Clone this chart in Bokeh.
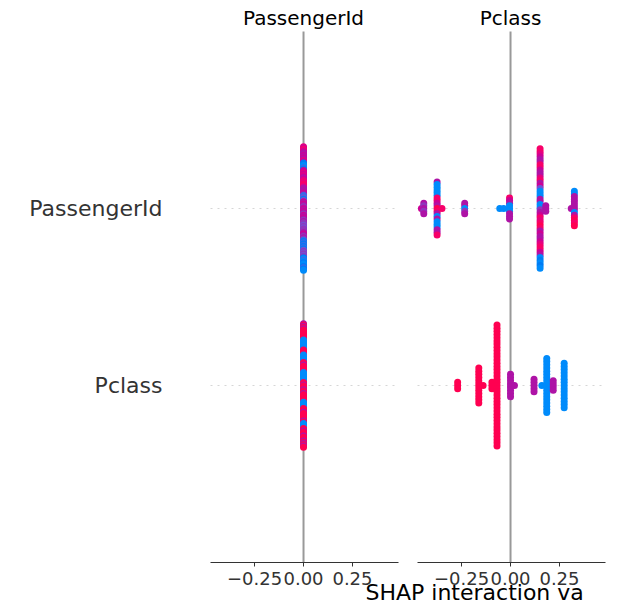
import numpy as np
from bokeh.plotting import figure
from bokeh.models import (Range1d, LinearAxis, FixedTicker, Label,
                          ColumnDataSource, LinearColorMapper)
from bokeh.transform import transform
from bokeh.embed import file_html
from bokeh.resources import INLINE

# ---------------- data ----------------
row_features = ["Pclass", "PassengerId"]          # y = 0, 1
col_features = ["PassengerId", "Pclass"]          # left panel, right panel
x_ticks = [-0.25, 0.0, 0.25]
x_tick_labels = ["\u22120.25", "0.00", "0.25"]
x_label = "SHAP interaction va"                   # as much as the reference shows

# feature-value codes 0 (low, blue) .. 9 (high, red), listed top to bottom in each stack
# panel "PassengerId", row "PassengerId"
pid_pid_x = [0.0]
pid_pid_codes = ["76876" "55656576" "110021" "66767656" "787887" "555565" "22313"
                 "656545656" "54656545" "44343444" "565454" "21212121" "343434"
                 "10201001210"]
# panel "PassengerId", row "Pclass"
pid_pcl_x = [0.0]
pid_pcl_codes = ["59595" "99999999" "00000000" "9999" "000000" "99599999" "00000000"
                 "9959995995" "999999" "00000" "999599999959" "0000" "995999599959"
                 "5959"]
# panel "Pclass", row "PassengerId"
pcl_pid_x = [-0.455, -0.443, -0.375, -0.35, -0.234, -0.055, -0.035, -0.005,
             0.151, 0.18, 0.31, 0.326]
pcl_pid_codes = ["6", "54545", "500000886598505000558", "8", "55045", "0", "0",
                 "865000555",
                 "8876558865578563000550045687898565567886501010",
                 "555", "5", "00555555058989"]
# panel "Pclass", row "Pclass"
pcl_pcl_x = [-0.27, -0.162, -0.14, -0.095, -0.069, 0.0, 0.02, 0.12, 0.16,
             0.185, 0.218, 0.274]
pcl_pcl_codes = ["999", "999999999999", "9", "999",
                 "999999999999999999999999999999999999999",
                 "55555555", "5", "55555", "0", "000000000000000000", "5555",
                 "000000000000000"]

# ---------------- styling / layout ----------------
W, H = 618, 605
FRAME_L, FRAME_T, FRAME_B = 210, 31, 562     # where the panels sit (pixels)
PANEL_W, GAP = 188, 19
XLABEL_LEFT = 365
x_lo, x_hi = -0.475, 0.485
y_lo, y_hi = -1.0, 2.0
xscale = PANEL_W / (x_hi - x_lo)
yscale = (FRAME_B - FRAME_T) / (y_hi - y_lo)


def lch_to_rgb(L, C, h):
    a = C * np.cos(h)
    b = C * np.sin(h)
    fy = (L + 16) / 116
    fx = fy + a / 500
    fz = fy - b / 200

    def finv(t):
        return np.where(t > 6 / 29, t ** 3, 3 * (6 / 29) ** 2 * (t - 4 / 29))
    X = 0.95047 * finv(fx)
    Y = finv(fy)
    Z = 1.08883 * finv(fz)
    r = 3.2406 * X - 1.5372 * Y - 0.4986 * Z
    g = -0.9689 * X + 1.8758 * Y + 0.0415 * Z
    bb = 0.0557 * X - 0.2040 * Y + 1.0570 * Z
    rgb = np.clip(np.stack([r, g, bb]), 0, None)
    rgb = np.where(rgb > 0.0031308, 1.055 * rgb ** (1 / 2.4) - 0.055, 12.92 * rgb)
    return np.clip(rgb, 0, 1)


nsteps = 256
half = nsteps // 2
Ls = np.concatenate([np.linspace(54, 40, half), np.linspace(40, 54, nsteps - half)])
Cs = np.linspace(70, 90, nsteps)
hs = np.linspace(4.6588, 0.35470565 + 2 * np.pi, nsteps)
rgb = lch_to_rgb(Ls, Cs, hs)
palette = ["#%02x%02x%02x" % tuple(int(round(v * 255)) for v in rgb[:, i]) for i in range(nsteps)]
mapper = LinearColorMapper(palette=palette, low=0, high=9)


def swarm(xs, codes, row):
    n_max = max(len(c) for c in codes)
    step = 0.36 / (np.ceil((n_max - 1) / 2) + 1)
    X, Y, C = [], [], []
    for x, code in zip(xs, codes):
        n = len(code)
        for k, ch in enumerate(code):
            X.append(x)
            Y.append(row + ((n - 1) / 2 - k) * step)
            C.append(int(ch))
    return dict(x=X, y=Y, c=C)


# the frame covers the whole canvas; panels are placed through their ranges
y_range = Range1d(y_lo - (H - FRAME_B) / yscale, y_hi + FRAME_T / yscale)
r1_start = x_lo - FRAME_L / xscale
r2_start = x_lo - (FRAME_L + PANEL_W + GAP) / xscale

p = figure(width=W, height=H, output_backend="svg", toolbar_location=None,
           x_range=Range1d(r1_start, r1_start + W / xscale), y_range=y_range,
           min_border=0, min_border_left=0, min_border_right=0,
           min_border_top=0, min_border_bottom=0,
           x_axis_location=None, y_axis_location=None)
p.extra_x_ranges = {"p2": Range1d(r2_start, r2_start + W / xscale)}
p.outline_line_color = None
p.xgrid.visible = False
p.ygrid.visible = False
p.background_fill_color = "white"
p.border_fill_color = "white"

FONT = "DejaVu Sans"
TXT = "#333333"

# y axis with feature names
yaxis = LinearAxis(ticker=FixedTicker(ticks=[0, 1]),
                   major_label_overrides={0: row_features[0], 1: row_features[1]},
                   fixed_location=x_lo)
yaxis.axis_line_color = None
yaxis.major_tick_line_color = None
yaxis.minor_tick_line_color = None
yaxis.major_tick_out = 0
yaxis.major_label_standoff = 48
yaxis.major_label_text_font = FONT
yaxis.major_label_text_font_size = "22px"
yaxis.major_label_text_color = TXT
p.add_layout(yaxis, "left")

panels = [
    ("default", [(pid_pid_x, pid_pid_codes, 1), (pid_pcl_x, pid_pcl_codes, 0)]),
    ("p2", [(pcl_pid_x, pcl_pid_codes, 1), (pcl_pcl_x, pcl_pcl_codes, 0)]),
]

for (rname, rows), title in zip(panels, col_features):
    ax = LinearAxis(x_range_name=rname, ticker=FixedTicker(ticks=x_ticks),
                    major_label_overrides=dict(zip(x_ticks, x_tick_labels)),
                    bounds=(x_lo, x_hi), fixed_location=y_lo)
    ax.axis_line_color = TXT
    ax.axis_line_width = 1
    ax.major_tick_line_color = TXT
    ax.minor_tick_line_color = None
    ax.major_tick_out = 4
    ax.major_tick_in = 0
    ax.major_label_standoff = 5
    ax.major_label_text_font = FONT
    ax.major_label_text_font_size = "18px"
    ax.major_label_text_color = TXT
    p.add_layout(ax, "below")

    # zero line
    p.segment(x0=[0], x1=[0], y0=[y_lo], y1=[y_hi], x_range_name=rname,
              line_color="#999999", line_width=2, level="underlay")
    for xs, codes, row in rows:
        p.segment(x0=[x_lo], x1=[x_hi], y0=[row], y1=[row], x_range_name=rname,
                  line_color="#cccccc", line_width=0.8, line_dash="2 5",
                  level="underlay")
        src = ColumnDataSource(swarm(xs, codes, row))
        p.scatter("x", "y", source=src, x_range_name=rname, size=7,
                  fill_color=transform("c", mapper), line_color=None)

    p.add_layout(Label(x=0, y=y_hi, x_range_name=rname, text=title,
                       text_align="center", text_baseline="alphabetic",
                       y_offset=14, text_font=FONT, text_font_size="20px",
                       text_color="black"))

# x label, left edge where the reference shows it
zero2 = FRAME_L + PANEL_W + GAP + (0 - x_lo) * xscale
p.add_layout(Label(x=(XLABEL_LEFT - zero2) / xscale, y=y_lo, x_range_name="p2",
                   text=x_label, text_align="left", text_baseline="alphabetic",
                   y_offset=-30, text_font=FONT, text_font_size="22px",
                   text_color="black"))

open("out.html", "w").write(file_html(p, INLINE))
